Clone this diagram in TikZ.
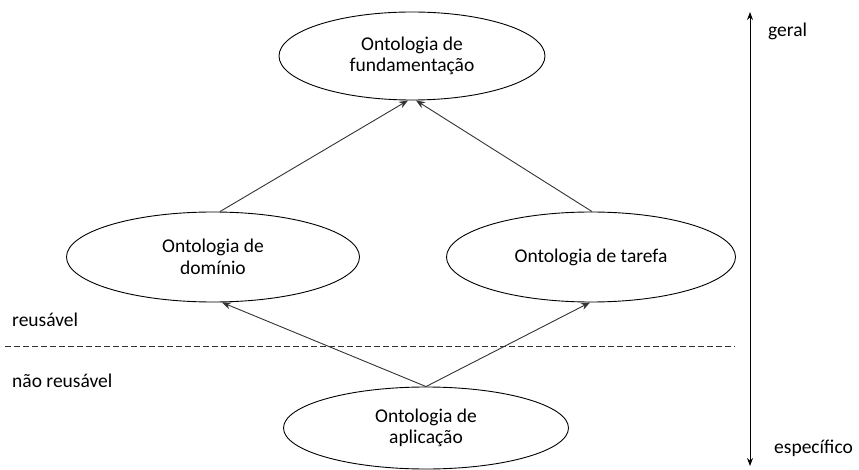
\documentclass[tikz,border=0pt]{standalone}
\usepackage{fontspec}
\setmainfont{Carlito}
\usetikzlibrary{shapes.geometric,arrows.meta,calc}
\begin{document}
\begin{tikzpicture}[x=1pt,y=-1pt,
  onto/.style={ellipse,draw=black,line width=0.9pt,inner sep=0pt,align=center,
    font=\fontsize{19.5}{21.5}\selectfont},
  link/.style={draw=black!80,line width=0.9pt,-{Stealth[length=9pt,width=7pt]}},
  lbl/.style={anchor=west,inner sep=0pt,font=\fontsize{19.5}{22}\selectfont}]
  \useasboundingbox (0,0) rectangle (859,470);

  % ontologies
  \node[onto,minimum width=266,minimum height=88] (fund) at (412,56)
    {Ontologia de\\fundamentação};
  \node[onto,minimum width=293,minimum height=90] (dom) at (213,257)
    {Ontologia de\\domínio};
  \node[onto,minimum width=289,minimum height=90] (tar) at (591,257)
    {Ontologia de tarefa};
  \node[onto,minimum width=285,minimum height=82] (apl) at (426,428)
    {Ontologia de\\aplicação};

  % specialisation links
  \draw[link] ($(dom.north)+(7,0)$) -- ($(fund.south)+(-4,0)$);
  \draw[link] ($(tar.north)+(1,0)$) -- ($(fund.south)+(4,0)$);
  \draw[link] (apl.north) -- ($(dom.south)+(9,0)$);
  \draw[link] (apl.north) -- ($(tar.south)+(-1,0)$);

  % reusability boundary
  \coordinate (dl) at (5,346);
  \coordinate (dr) at (735,346);
  \draw[black!80,line width=0.8pt,dash pattern=on 6pt off 3pt] (dl) -- (dr);
  \node[lbl] (reu) at (12,320) {reusável};
  \node[lbl] (nreu) at (12,381) {não reusável};

  % generality axis
  \coordinate (vt) at (750,12);
  \coordinate (vb) at (750,466);
  \draw[black,line width=0.9pt,{Stealth[length=8pt,width=6pt]}-{Stealth[length=8pt,width=6pt]}] (vt) -- (vb);
  \node[lbl] (ger) at (768,31) {geral};
  \node[lbl] (esp) at (774,448) {específico};
\end{tikzpicture}
\end{document}
